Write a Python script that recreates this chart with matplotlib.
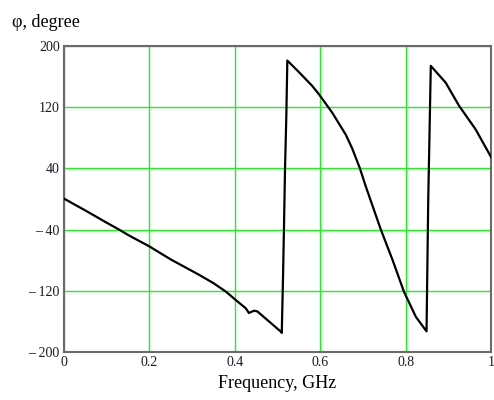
import matplotlib
matplotlib.use("Agg")
import matplotlib.pyplot as plt

# Frequency (GHz) and phase (degree)
freq = [0.000, 0.050, 0.100, 0.129, 0.150, 0.200, 0.250, 0.316, 0.350, 0.379,
        0.400, 0.426, 0.433, 0.445, 0.453, 0.480, 0.507, 0.510,
        0.5129, 0.5152, 0.5176, 0.5207, 0.523,
        0.550, 0.581, 0.597, 0.628, 0.660, 0.675, 0.693, 0.707, 0.742, 0.769,
        0.796, 0.824, 0.849,
        0.851, 0.853, 0.856, 0.859,
        0.894, 0.925, 0.964, 0.997, 1.000]
phase = [0.5, -15, -31, -40, -47, -62, -79, -99, -110, -121,
         -131, -143, -149, -146, -147, -160, -173, -175,
         -103, -36, 39, 109, 181,
         166, 148, 137, 113, 84, 66, 40, 16, -40, -79,
         -121, -154, -173,
         -88, -1, 85, 174,
         152, 122, 91, 58, 55]

xticks = [0, 0.2, 0.4, 0.6, 0.8, 1]
xticklabels = ["0", "0.2", "0.4", "0.6", "0.8", "1"]
yticks = [-200, -120, -40, 40, 120, 200]
yticklabels = ["\u2013 200", "\u2013 120", "\u2013 40", "40", "120", "200"]

plt.rcParams['font.family'] = ['Liberation Serif', 'DejaVu Serif']

fig = plt.figure(figsize=(4.94, 4.0), dpi=100)
ax = fig.add_axes([64/494, 1-352/400, 427/494, 306/400])

ax.plot(freq, phase, color='black', lw=1.6, zorder=3)

ax.set_xlim(0, 1)
ax.set_ylim(-200, 200)
ax.set_xticks(xticks)
ax.set_xticklabels(xticklabels)
ax.set_yticks(yticks)
ax.set_yticklabels(yticklabels)
ax.grid(True, color='#22ee22', lw=1.0, zorder=1)
ax.tick_params(length=0, labelsize=10, colors='#1a1a2a', pad=3)
for s in ax.spines.values():
    s.set_color('#6a6a6a')
    s.set_linewidth(1.5)

ax.set_xlabel("Frequency, GHz", fontsize=13, labelpad=4)
fig.text(12/494, 1-27/400, "\u03c6, degree", fontsize=13, ha='left', va='baseline')

fig.savefig("out.png", dpi=100)
